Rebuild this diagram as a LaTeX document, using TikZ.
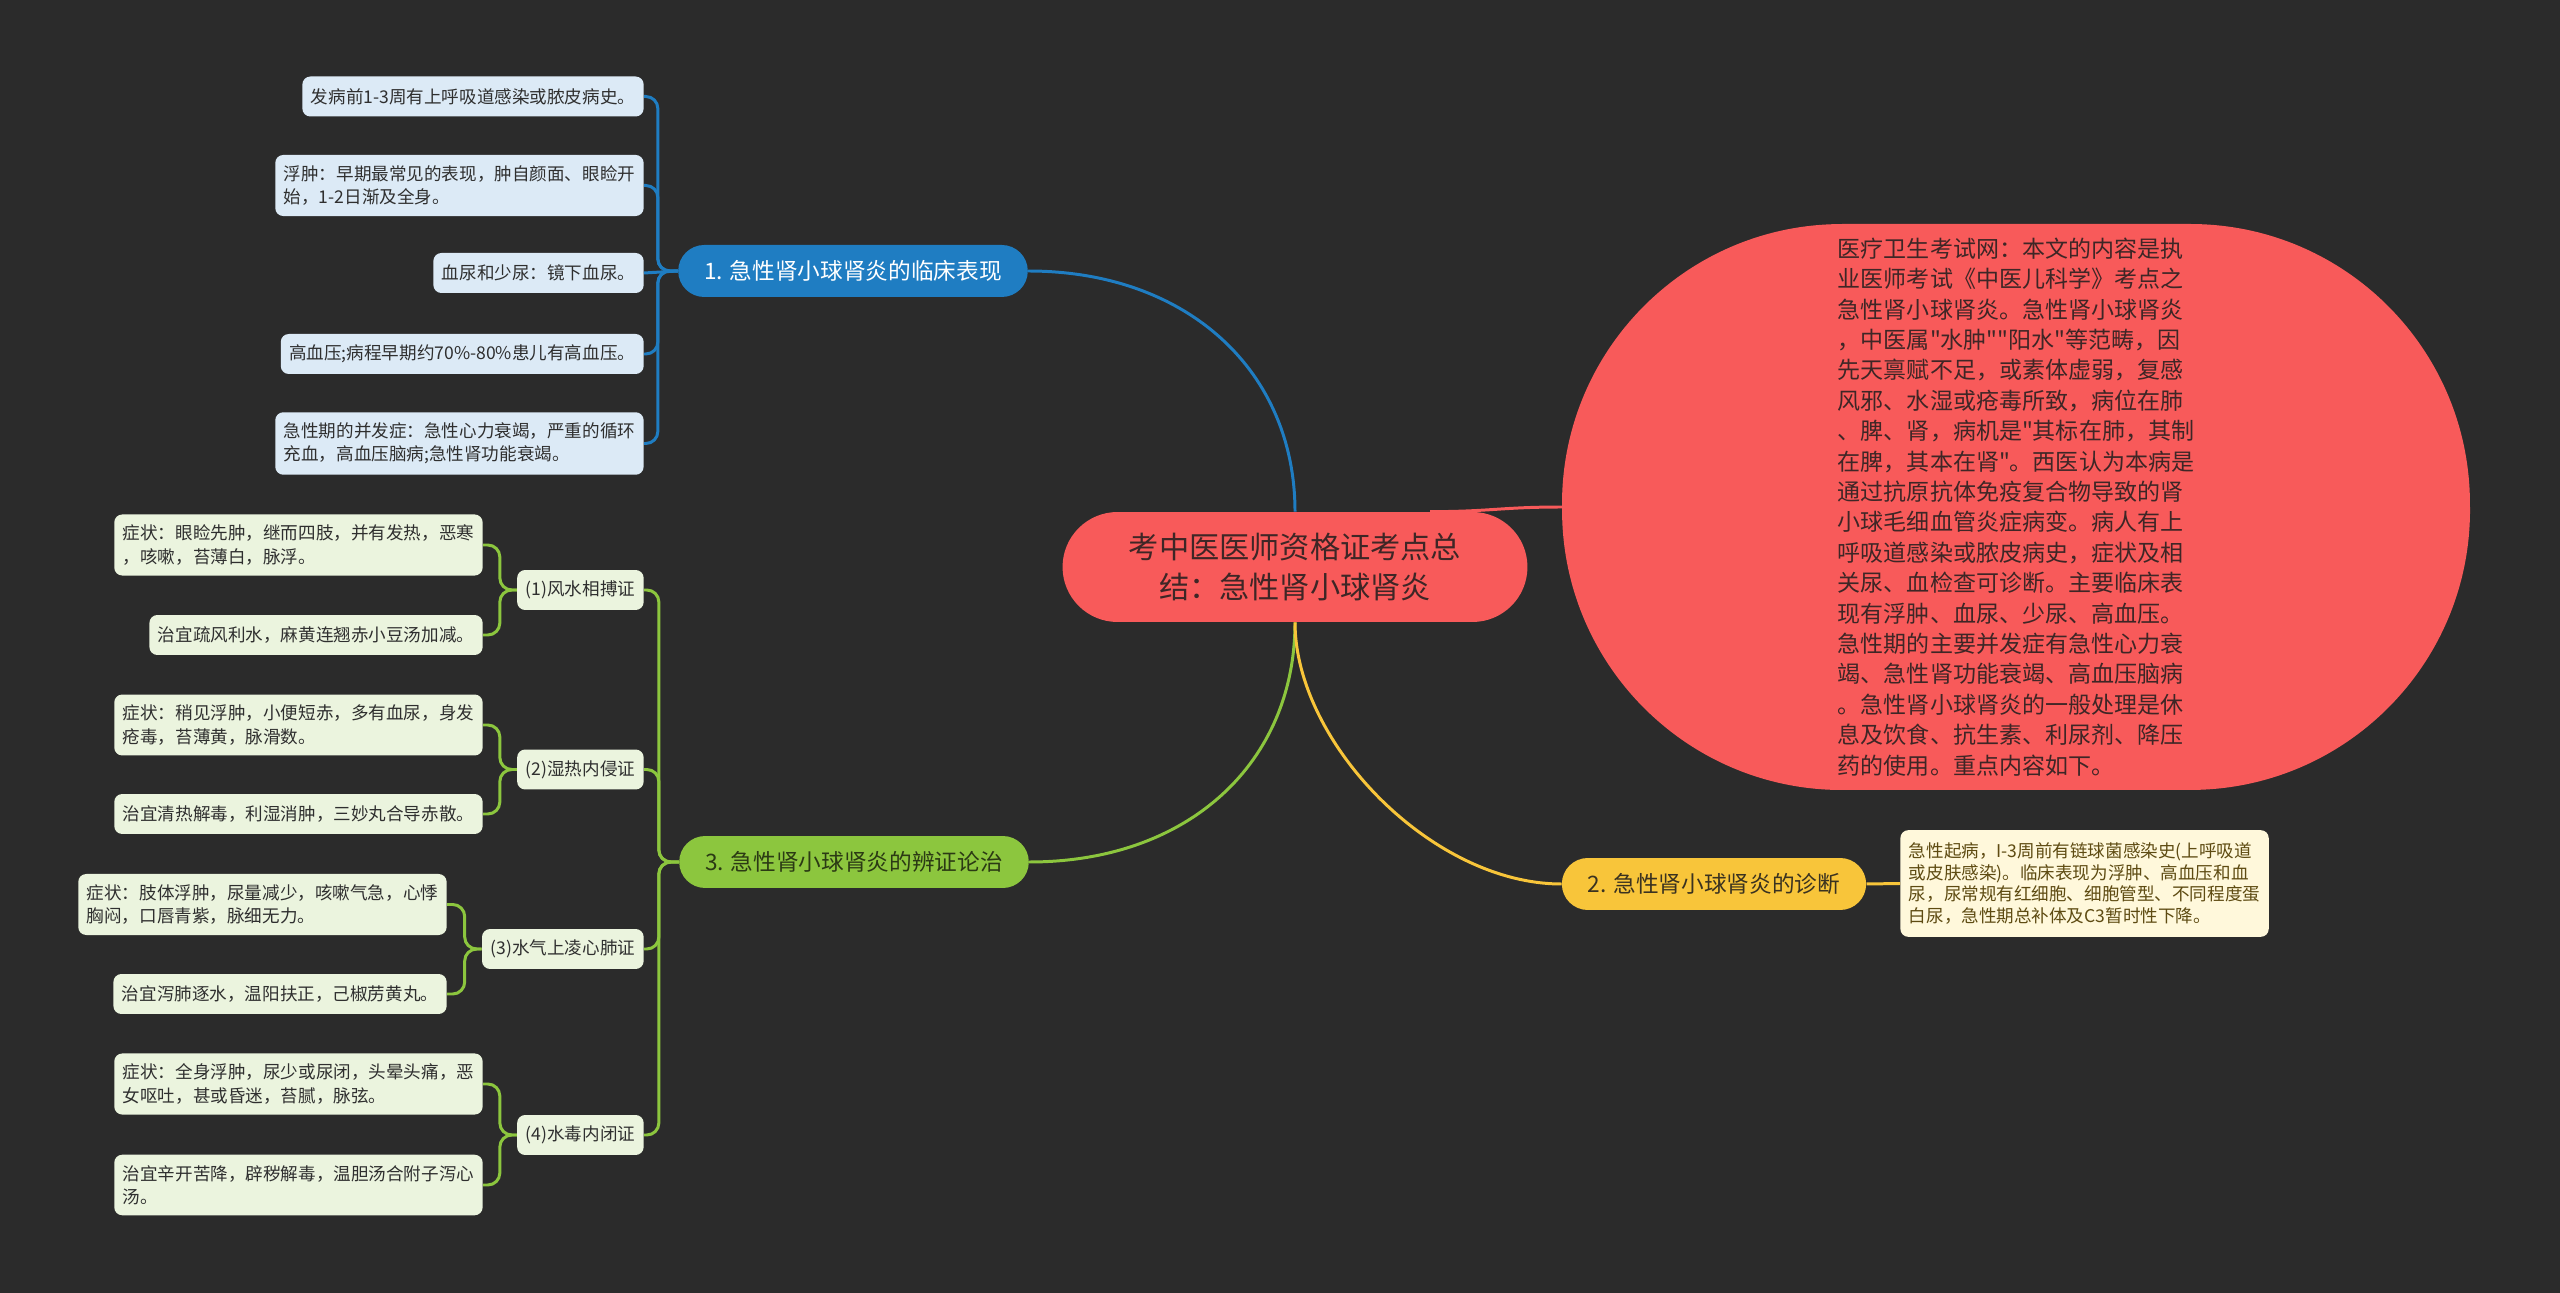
\documentclass[tikz,border=0pt]{standalone}
\usepackage{fontspec}
\newfontfamily\cjkfont{Noto Sans CJK SC}
\usetikzlibrary{calc}
\definecolor{mmBg}{HTML}{2B2B2B}
\definecolor{mmRed}{HTML}{F85A5A}
\definecolor{mmRedInk}{HTML}{3E2626}
\definecolor{mmBlue}{HTML}{1F7DC2}
\definecolor{mmBlueLeaf}{HTML}{DCEAF6}
\definecolor{mmGreen}{HTML}{8CC63E}
\definecolor{mmGreenLeaf}{HTML}{EBF4DE}
\definecolor{mmGreenInk}{HTML}{2B3A14}
\definecolor{mmYellow}{HTML}{F8C53A}
\definecolor{mmYellowInk}{HTML}{3A3220}
\definecolor{mmYellowLeaf}{HTML}{FFF8DB}
\definecolor{mmNoteInk}{HTML}{5E4B12}
\definecolor{mmInk}{HTML}{2F2F2F}
\tikzset{
  mm root/.style={
    fill=mmRed, text=mmRedInk,
    rounded corners=1.1cm,
    minimum width=9.3cm, minimum height=2.2cm,
    align=center,
    font=\cjkfont\fontsize{17.2}{22.8}\selectfont
  },
  mm summary/.style={
    text=mmRedInk, align=left,
    minimum width=18.16cm, minimum height=11.32cm,
    font=\cjkfont\fontsize{13.1}{17.3}\selectfont
  },
  mm branch/.style={
    rounded corners=.52cm,
    minimum height=1.04cm, inner xsep=.52cm,
    font=\cjkfont\fontsize{12.9}{15}\selectfont
  },
  blue branch/.style={mm branch, fill=mmBlue, text=white},
  green branch/.style={mm branch, fill=mmGreen, text=mmGreenInk},
  yellow branch/.style={mm branch, fill=mmYellow, text=mmYellowInk},
  mm leaf/.style={
    rounded corners=.16cm,
    minimum height=.8cm, inner xsep=.17cm, inner ysep=6pt,
    align=left, text=mmInk,
    font=\cjkfont\fontsize{10}{13.2}\selectfont
  },
  blue leaf/.style={mm leaf, fill=mmBlueLeaf, anchor=east},
  green leaf/.style={mm leaf, fill=mmGreenLeaf, anchor=east},
  yellow leaf/.style={
    mm leaf, fill=mmYellowLeaf, text=mmNoteInk, anchor=west, inner ysep=7pt,
    font=\cjkfont\fontsize{10}{12.4}\selectfont
  },
  mm link/.style={line width=1.7pt, rounded corners=.24cm},
  blue link/.style={mm link, draw=mmBlue},
  green link/.style={mm link, draw=mmGreen},
  yellow link/.style={mm link, draw=mmYellow},
  red link/.style={mm link, draw=mmRed}
}

\begin{document}
\begin{tikzpicture}[x=.02cm,y=-.02cm]
  \fill[mmBg] (0,0) rectangle (2560,1293);

  % summary bubble
  \fill[mmRed] (1842,224) -- (2190,224)
    arc[start angle=90, end angle=0, radius=5.6cm] -- (2470,510)
    arc[start angle=0, end angle=-90, radius=5.6cm] -- (1842,790)
    arc[start angle=270, end angle=180, radius=5.6cm] -- (1562,504)
    arc[start angle=180, end angle=90, radius=5.6cm] -- cycle;
  \node[mm summary] (sum) at (2016,507) {医疗卫生考试网：本文的内容是执\\
    业医师考试《中医儿科学》考点之\\
    急性肾小球肾炎。急性肾小球肾炎\\
    ，中医属"水肿""阳水"等范畴，因\\
    先天禀赋不足，或素体虚弱，复感\\
    风邪、水湿或疮毒所致，病位在肺\\
    、脾、肾，病机是"其标在肺，其制\\
    在脾，其本在肾"。西医认为本病是\\
    通过抗原抗体免疫复合物导致的肾\\
    小球毛细血管炎症病变。病人有上\\
    呼吸道感染或脓皮病史，症状及相\\
    关尿、血检查可诊断。主要临床表\\
    现有浮肿、血尿、少尿、高血压。\\
    急性期的主要并发症有急性心力衰\\
    竭、急性肾功能衰竭、高血压脑病\\
    。急性肾小球肾炎的一般处理是休\\
    息及饮食、抗生素、利尿剂、降压\\
    药的使用。重点内容如下。};

  \node[mm root] (root) at (1295,567) {考中医医师资格证考点总\\结：急性肾小球肾炎};

  \node[blue branch] (b1) at (853,271) {1. 急性肾小球肾炎的临床表现};
  \node[yellow branch] (b2) at (1714,884) {2. 急性肾小球肾炎的诊断};
  \node[green branch] (b3) at (854,862) {3. 急性肾小球肾炎的辨证论治};

  % branch 1
  \node[blue leaf] (l1) at (644,96.5) {发病前1-3周有上呼吸道感染或脓皮病史。};
  \node[blue leaf] (l2) at (644,185.5) {浮肿：早期最常见的表现，肿自颜面、眼睑开\\始，1-2日渐及全身。};
  \node[blue leaf] (l3) at (644,273) {血尿和少尿：镜下血尿。};
  \node[blue leaf] (l4) at (644,354) {高血压;病程早期约70\%-80\%患儿有高血压。};
  \node[blue leaf] (l5) at (644,443.5) {急性期的并发症：急性心力衰竭，严重的循环\\充血，高血压脑病;急性肾功能衰竭。};

  % branch 2
  \node[yellow leaf] (b2a) at (1900,883.5) {急性起病，I-3周前有链球菌感染史(上呼吸道\\
    或皮肤感染)。临床表现为浮肿、高血压和血\\
    尿，尿常规有红细胞、细胞管型、不同程度蛋\\
    白尿，急性期总补体及C3暂时性下降。};

  % branch 3
  \node[green leaf] (s1) at (644,590) {(1)风水相搏证};
  \node[green leaf] (s1a) at (483,545) {症状：眼睑先肿，继而四肢，并有发热，恶寒\\，咳嗽，苔薄白，脉浮。};
  \node[green leaf] (s1b) at (483,635) {治宜疏风利水，麻黄连翘赤小豆汤加减。};
  \node[green leaf] (s2) at (644,769.5) {(2)湿热内侵证};
  \node[green leaf] (s2a) at (483,725) {症状：稍见浮肿，小便短赤，多有血尿，身发\\疮毒，苔薄黄，脉滑数。};
  \node[green leaf] (s2b) at (483,814) {治宜清热解毒，利湿消肿，三妙丸合导赤散。};
  \node[green leaf] (s3) at (644,949) {(3)水气上凌心肺证};
  \node[green leaf] (s3a) at (447,904.5) {症状：肢体浮肿，尿量减少，咳嗽气急，心悸\\胸闷，口唇青紫，脉细无力。};
  \node[green leaf] (s3b) at (447,994) {治宜泻肺逐水，温阳扶正，己椒苈黄丸。};
  \node[green leaf] (s4) at (644,1135) {(4)水毒内闭证};
  \node[green leaf] (s4a) at (483,1084) {症状：全身浮肿，尿少或尿闭，头晕头痛，恶\\女呕吐，甚或昏迷，苔腻，脉弦。};
  \node[green leaf] (s4b) at (483,1185) {治宜辛开苦降，辟秽解毒，温胆汤合附子泻心\\汤。};

  % links from the root
  \draw[red link] ($(root.north)+(135,0)$) .. controls +(60,0) and +(-60,0) .. (sum.west);
  \draw[blue link] (root.north) .. controls +(0,-140) and +(160,0) .. (b1.east);
  \draw[green link] (root.south) .. controls +(0,140) and +(160,0) .. (b3.east);
  \draw[yellow link] (root.south) .. controls +(0,120) and +(-130,0) .. (b2.west);

  % links to the leaves
  \foreach \leaf in {l1,l2,l4,l5}
    \draw[blue link] (b1.west) -- ++(-20,0) |- (\leaf.east);
  \draw[blue link] (b1.west) -- (l3.east);
  \draw[yellow link] (b2.east) -- (b2a.west);
  \foreach \sub in {s1,s2,s3,s4} {
    \draw[green link] (b3.west) -- ++(-20,0) |- (\sub.east);
    \foreach \leaf in {a,b}
      \draw[green link] (\sub.west) -- ++(-17,0) |- (\sub\leaf.east);
  }
\end{tikzpicture}
\end{document}
